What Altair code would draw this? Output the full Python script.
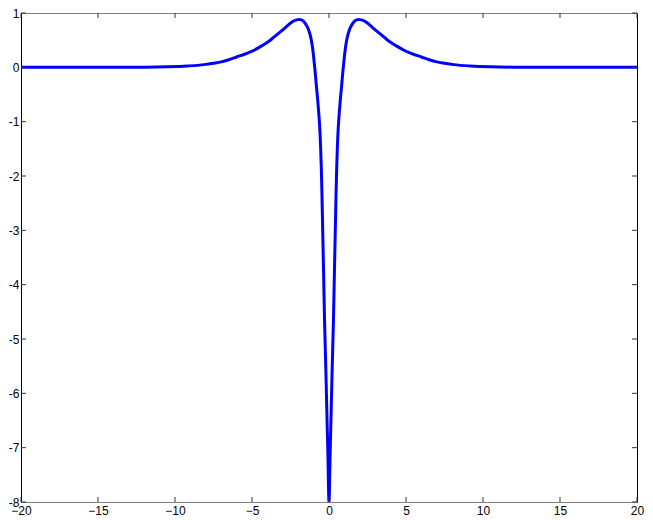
import altair as alt
import pandas as pd

# curve values
xs = [-20, -15, -12, -10.5, -9.2, -8.1, -7.5, -7.0, -6.5, -6.0, -5.4, -4.9, -4.4, -3.9,
      -3.6, -3.3, -3.0, -2.8, -2.6, -2.4, -2.2, -2.0, -1.9, -1.8, -1.7, -1.6, -1.5, -1.4,
      -1.3, -1.2, -1.1, -1.05, -1.0, -0.95, -0.9, -0.85, -0.8, -0.75, -0.7, -0.65, -0.6,
      -0.55, -0.5, -0.46, -0.42, -0.35, -0.29, -0.21, -0.14, -0.07, 0.0,
      0.07, 0.14, 0.21, 0.29, 0.35, 0.42, 0.46, 0.5, 0.55, 0.6, 0.65, 0.7, 0.75, 0.8,
      0.85, 0.9, 0.95, 1.0, 1.05, 1.1, 1.2, 1.3, 1.4, 1.5, 1.6, 1.7, 1.8, 1.9, 2.0, 2.2,
      2.4, 2.6, 2.8, 3.0, 3.3, 3.6, 3.9, 4.4, 4.9, 5.4, 6.0, 6.5, 7.0, 7.5, 8.1, 9.2,
      10.5, 12, 15, 20]
ys = [0.0, 0.0005, 0.003, 0.01, 0.025, 0.05, 0.075, 0.10, 0.14, 0.19, 0.25, 0.31, 0.39, 0.48,
      0.55, 0.62, 0.69, 0.74, 0.79, 0.835, 0.865, 0.878, 0.88, 0.875, 0.86, 0.83, 0.79, 0.74,
      0.67, 0.57, 0.42, 0.32, 0.20, 0.06, -0.08, -0.24, -0.40, -0.55, -0.72, -0.90, -1.12,
      -1.42, -1.85, -2.30, -2.85, -3.80, -4.65, -5.50, -6.33, -7.15, -8.0,
      -7.15, -6.33, -5.50, -4.65, -3.80, -2.85, -2.30, -1.85, -1.42, -1.12, -0.90, -0.72,
      -0.55, -0.40, -0.24, -0.08, 0.06, 0.20, 0.32, 0.42, 0.57, 0.67, 0.74, 0.79, 0.83,
      0.86, 0.875, 0.88, 0.878, 0.865, 0.835, 0.79, 0.74, 0.69, 0.62, 0.55, 0.48, 0.39,
      0.31, 0.25, 0.19, 0.14, 0.10, 0.075, 0.05, 0.025, 0.01, 0.003, 0.0005, 0.0]

x_ticks = [-20, -15, -10, -5, 0, 5, 10, 15, 20]
y_ticks = [-8, -7, -6, -5, -4, -3, -2, -1, 0, 1]

W, H = 616, 489
FONT = "Liberation Sans"

curve = pd.DataFrame({"x": xs, "y": ys})
xt = pd.DataFrame({"t": x_ticks})
yt = pd.DataFrame({"t": y_ticks})

xscale = alt.Scale(domain=[-20, 20], nice=False, zero=False)
yscale = alt.Scale(domain=[-8, 1], nice=False, zero=False)

line = alt.Chart(curve).mark_line(color="#0000ff", strokeWidth=3, interpolate="monotone", clip=True).encode(
    x=alt.X("x:Q", scale=xscale, title=None,
            axis=alt.Axis(values=x_ticks, ticks=False, domain=True, domainColor="#808080",
                          grid=False, labelFlush=False, labelOverlap=False, labelPadding=3,
                          labelFont=FONT, labelFontSize=12, labelColor="black")),
    y=alt.Y("y:Q", scale=yscale, title=None,
            axis=alt.Axis(values=y_ticks, ticks=False, domain=True, domainColor="black",
                          grid=False, labelFlush=False, labelOverlap=False, labelPadding=2,
                          labelExpr="replace(datum.label, '\u2212', '-')",
                          labelFont=FONT, labelFontSize=12, labelColor="black")),
)

frame = alt.Chart(curve).mark_point(opacity=0).encode(
    x=alt.X("x:Q", scale=xscale, title=None,
            axis=alt.Axis(orient="top", labels=False, ticks=False, domain=True,
                          domainColor="#808080", grid=False)),
    y=alt.Y("y:Q", scale=yscale, title=None,
            axis=alt.Axis(orient="right", labels=False, ticks=False, domain=True,
                          domainColor="black", grid=False)),
)

tick_col = "#333333"
bt = alt.Chart(xt).mark_rule(color=tick_col, strokeWidth=1).encode(
    x=alt.X("t:Q", scale=xscale, axis=None), y=alt.value(H), y2=alt.value(H - 5))
tt = alt.Chart(xt).mark_rule(color=tick_col, strokeWidth=1).encode(
    x=alt.X("t:Q", scale=xscale, axis=None), y=alt.value(0), y2=alt.value(5))
lt = alt.Chart(yt).mark_rule(color=tick_col, strokeWidth=1).encode(
    y=alt.Y("t:Q", scale=yscale, axis=None), x=alt.value(0), x2=alt.value(5))
rt = alt.Chart(yt).mark_rule(color=tick_col, strokeWidth=1).encode(
    y=alt.Y("t:Q", scale=yscale, axis=None), x=alt.value(W), x2=alt.value(W - 5))

chart = alt.layer(line, frame, bt, tt, lt, rt).resolve_axis(
    x="independent", y="independent"
).properties(
    width=W, height=H, autosize="none",
    padding={"left": 13, "top": 5, "right": 8, "bottom": 14},
).configure_view(stroke=None).configure(background="white")

chart.save("out.html", embed_options={"renderer": "svg", "actions": False})
